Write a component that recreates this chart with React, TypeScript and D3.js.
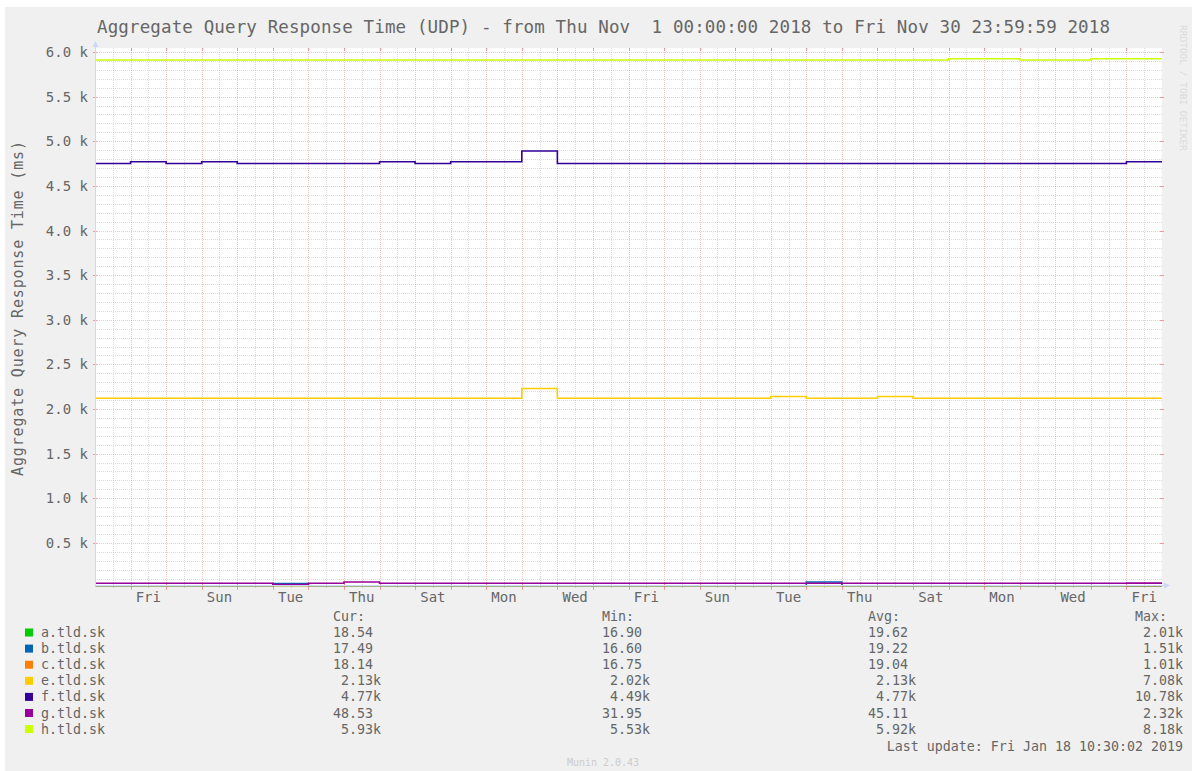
import React, { useEffect, useRef } from 'react';
import * as d3 from 'd3';

const W = 1192;
const H = 771;

const title = 'Aggregate Query Response Time (UDP) - from Thu Nov  1 00:00:00 2018 to Fri Nov 30 23:59:59 2018';
const yTitle = 'Aggregate Query Response Time (ms)';

const hosts = ['a.tld.sk', 'b.tld.sk', 'c.tld.sk', 'e.tld.sk', 'f.tld.sk', 'g.tld.sk', 'h.tld.sk'];
const colors = ['#00CC00', '#0066B3', '#FF8000', '#FFCC00', '#330099', '#990099', '#CCFF00'];

// one value per day, Nov 1 .. Nov 30 (ms)
const aDaily = [19.5, 19.6, 19.4, 19.7, 19.5, 19.8, 19.6, 19.5, 19.7, 19.6, 19.5, 19.6, 20.1, 19.6, 19.5,
  19.6, 19.7, 19.5, 19.6, 19.8, 19.6, 19.5, 19.7, 19.6, 19.5, 19.6, 19.7, 19.5, 19.6, 18.5];
const bDaily = [18.9, 19.0, 18.8, 19.1, 18.9, 45.0, 19.0, 18.9, 19.1, 19.0, 18.9, 19.0, 19.4, 19.0, 18.9,
  19.0, 19.1, 18.9, 19.0, 19.2, 62.0, 18.9, 19.1, 19.0, 18.9, 19.0, 19.1, 18.9, 19.0, 17.5];
const cDaily = [19.0, 19.1, 18.9, 19.1, 19.0, 19.2, 19.0, 18.9, 19.1, 19.0, 18.9, 19.0, 19.5, 19.0, 18.9,
  19.0, 19.1, 18.9, 19.0, 19.2, 19.0, 18.9, 19.1, 19.0, 18.9, 19.0, 19.1, 18.9, 19.0, 18.1];
const eDaily = [2120, 2120, 2120, 2120, 2120, 2120, 2120, 2120, 2120, 2120, 2120, 2120, 2230, 2120, 2120,
  2120, 2120, 2120, 2120, 2140, 2120, 2120, 2140, 2120, 2120, 2120, 2120, 2120, 2120, 2120];
const fDaily = [4750, 4770, 4750, 4770, 4750, 4750, 4750, 4750, 4770, 4750, 4770, 4770, 4890, 4750, 4750,
  4750, 4750, 4750, 4750, 4750, 4750, 4750, 4750, 4750, 4750, 4750, 4750, 4750, 4750, 4770];
const gDaily = [48, 48, 48, 48, 48, 34, 48, 62, 48, 48, 48, 48, 48, 48, 48,
  48, 48, 48, 48, 48, 48, 48, 48, 48, 48, 48, 48, 48, 48, 48.5];
const hDaily = [5910, 5910, 5910, 5910, 5910, 5910, 5910, 5910, 5910, 5910, 5910, 5910, 5910, 5910, 5910,
  5910, 5910, 5910, 5910, 5910, 5910, 5910, 5910, 5910, 5925, 5925, 5910, 5910, 5925, 5925];
const series = [aDaily, bDaily, cDaily, eDaily, fDaily, gDaily, hDaily];

const curVals = ['18.54', '17.49', '18.14', ' 2.13k', ' 4.77k', '48.53', ' 5.93k'];
const minVals = ['16.90', '16.60', '16.75', ' 2.02k', ' 4.49k', '31.95', ' 5.53k'];
const avgVals = ['19.62', '19.22', '19.04', ' 2.13k', ' 4.77k', '45.11', ' 5.92k'];
const maxVals = [' 2.01k', ' 1.51k', ' 1.01k', ' 7.08k', '10.78k', ' 2.32k', ' 8.18k'];

const yTicks = [500, 1000, 1500, 2000, 2500, 3000, 3500, 4000, 4500, 5000, 5500, 6000];
const dayLabels = ['Fri', 'Sun', 'Tue', 'Thu', 'Sat', 'Mon', 'Wed', 'Fri', 'Sun', 'Tue', 'Thu', 'Sat', 'Mon', 'Wed', 'Fri'];

const lastUpdate = 'Last update: Fri Jan 18 10:30:02 2019';
const version = 'Munin 2.0.43';
const watermark = 'RRDTOOL / TOBI OETIKER';

const mono = "'DejaVu Sans Mono', monospace";
const fontCol = '#666666';

// keep runs of spaces (fixed-width legend columns)
const pre = (s: string) => s.replace(/ /g, '\u00A0');

export default function App() {
  const svgRef = useRef<SVGSVGElement>(null);

  useEffect(() => {
    const svg = d3.select(svgRef.current);
    svg.selectAll('*').remove();

    const t0 = new Date(Date.UTC(2018, 10, 1));
    const t1 = new Date(Date.UTC(2018, 11, 1));
    const plotTop = 48;
    const plotBottom = 585.5;

    const x = d3.scaleUtc().domain([t0, t1]).range([95, 1162]);
    const y = d3.scaleLinear().domain([0, 6000]).range([587.5, 52]);
    const [xl, xr] = x.range();

    // page + image background
    svg.append('rect').attr('width', W).attr('height', H).attr('fill', '#ffffff');
    svg.append('rect').attr('x', 5).attr('y', 7).attr('width', W - 5).attr('height', H - 7).attr('fill', '#F0F0F0');
    svg.append('rect').attr('x', xl).attr('y', plotTop).attr('width', xr - xl).attr('height', plotBottom - plotTop).attr('fill', '#ffffff');

    const grid = svg.append('g').attr('shape-rendering', 'crispEdges');
    const minorCol = 'rgba(143,143,143,0.32)';
    const majorCol = 'rgba(232,80,80,0.33)';
    const tickCol = 'rgba(232,80,80,0.5)';

    // horizontal grid
    const minorY = d3.range(100, 6001, 100).filter(v => v % 500 !== 0);
    grid.selectAll('line.hmin').data(minorY).join('line')
      .attr('x1', xl).attr('x2', xr)
      .attr('y1', d => Math.round(y(d)) + 0.5).attr('y2', d => Math.round(y(d)) + 0.5)
      .attr('stroke', minorCol).attr('stroke-dasharray', '1 1');
    grid.selectAll('line.hmaj').data(yTicks).join('line')
      .attr('x1', xl).attr('x2', xr)
      .attr('y1', d => Math.round(y(d)) + 0.5).attr('y2', d => Math.round(y(d)) + 0.5)
      .attr('stroke', majorCol).attr('stroke-dasharray', '1 1');
    grid.selectAll('line.hmajtick').data(yTicks).join('line')
      .attr('x1', xl - 2).attr('x2', xl + 2)
      .attr('y1', d => Math.round(y(d)) + 0.5).attr('y2', d => Math.round(y(d)) + 0.5)
      .attr('stroke', tickCol);
    grid.selectAll('line.hmajtickr').data(yTicks).join('line')
      .attr('x1', xr - 2).attr('x2', xr + 2)
      .attr('y1', d => Math.round(y(d)) + 0.5).attr('y2', d => Math.round(y(d)) + 0.5)
      .attr('stroke', tickCol);

    // vertical grid: 12h minor, daily major
    const minorX = d3.utcHour.every(12)!.range(t0, t1).filter(d => d.getUTCHours() === 12);
    const majorX = d3.utcDay.range(d3.utcDay.offset(t0, 1), t1);
    grid.selectAll('line.vmin').data(minorX).join('line')
      .attr('x1', d => Math.round(x(d)) + 0.5).attr('x2', d => Math.round(x(d)) + 0.5)
      .attr('y1', plotTop).attr('y2', plotBottom)
      .attr('stroke', minorCol).attr('stroke-dasharray', '1 1');
    grid.selectAll('line.vmintick').data(minorX).join('line')
      .attr('x1', d => Math.round(x(d)) + 0.5).attr('x2', d => Math.round(x(d)) + 0.5)
      .attr('y1', plotBottom).attr('y2', plotBottom + 2)
      .attr('stroke', minorCol);
    grid.selectAll('line.vmaj').data(majorX).join('line')
      .attr('x1', d => Math.round(x(d)) + 0.5).attr('x2', d => Math.round(x(d)) + 0.5)
      .attr('y1', plotTop).attr('y2', plotBottom)
      .attr('stroke', majorCol).attr('stroke-dasharray', '1 1');
    grid.selectAll('line.vmajtick').data(majorX).join('line')
      .attr('x1', d => Math.round(x(d)) + 0.5).attr('x2', d => Math.round(x(d)) + 0.5)
      .attr('y1', plotBottom - 2).attr('y2', plotBottom + 4)
      .attr('stroke', tickCol);
    grid.selectAll('line.vmajtop').data(majorX).join('line')
      .attr('x1', d => Math.round(x(d)) + 0.5).attr('x2', d => Math.round(x(d)) + 0.5)
      .attr('y1', plotTop).attr('y2', plotTop + 3)
      .attr('stroke', tickCol);

    // data lines
    svg.append('clipPath').attr('id', 'plotclip')
      .append('rect').attr('x', xl).attr('y', plotTop).attr('width', xr - xl).attr('height', plotBottom - plotTop + 1);
    const line = d3.line<[Date, number]>()
      .x(d => x(d[0])).y(d => y(d[1]))
      .curve(d3.curveStepAfter);
    const lines = svg.append('g').attr('clip-path', 'url(#plotclip)');
    series.forEach((vals, i) => {
      const pts: [Date, number][] = vals.map((v, k) => [d3.utcDay.offset(t0, k), v]);
      pts.push([t1, vals[vals.length - 1]]);
      lines.append('path')
        .attr('d', line(pts))
        .attr('fill', 'none')
        .attr('stroke', colors[i])
        .attr('stroke-width', 1.6);
    });

    // axes
    const axisCol = '#CFD6F8';
    svg.append('line').attr('x1', xl + 0.5).attr('x2', xl + 0.5).attr('y1', plotTop - 2).attr('y2', plotBottom + 1)
      .attr('stroke', axisCol);
    svg.append('line').attr('x1', xl).attr('x2', xr + 3).attr('y1', plotBottom).attr('y2', plotBottom)
      .attr('stroke', axisCol);
    svg.append('path').attr('d', `M${xl - 2.5},${plotTop - 1} L${xl + 3.5},${plotTop - 1} L${xl + 0.5},${plotTop - 7} Z`)
      .attr('fill', axisCol);
    svg.append('path').attr('d', `M${xr + 2},${plotBottom - 3} L${xr + 2},${plotBottom + 3} L${xr + 8},${plotBottom} Z`)
      .attr('fill', axisCol);

    // y tick labels
    svg.append('g').selectAll('text').data(yTicks).join('text')
      .attr('x', 88).attr('y', d => y(d)).attr('dy', '0.36em')
      .attr('text-anchor', 'end')
      .attr('font-family', mono).attr('font-size', 14).attr('fill', fontCol)
      .text(d => pre(`${(d / 1000).toFixed(1)} k`));

    // x tick labels, at noon of every second day
    svg.append('g').selectAll('text').data(dayLabels).join('text')
      .attr('x', (d, i) => x(new Date(Date.UTC(2018, 10, 2 + 2 * i, 12))))
      .attr('y', 602)
      .attr('text-anchor', 'middle')
      .attr('font-family', mono).attr('font-size', 14).attr('fill', fontCol)
      .text(d => d);

    // titles
    svg.append('text')
      .attr('x', 97).attr('y', 33)
      .attr('font-family', mono).attr('font-size', 17.5).attr('fill', fontCol)
      .attr('textLength', 1013).attr('lengthAdjust', 'spacing')
      .text(pre(title));
    svg.append('text')
      .attr('transform', 'translate(23,308.5) rotate(-90)')
      .attr('text-anchor', 'middle')
      .attr('font-family', mono).attr('font-size', 15).attr('fill', fontCol)
      .attr('textLength', 335).attr('lengthAdjust', 'spacing')
      .text(yTitle);
    svg.append('text')
      .attr('transform', 'translate(1180,25) rotate(90)')
      .attr('font-family', mono).attr('font-size', 9.5).attr('fill', '#dadada')
      .text(watermark);

    // legend
    const leg = svg.append('g').attr('font-family', mono).attr('font-size', 13.3).attr('fill', fontCol);
    const cols = [333, 602, 868, 1135];
    const heads = ['Cur:', 'Min:', 'Avg:', 'Max:'];
    heads.forEach((h, j) => leg.append('text').attr('x', cols[j]).attr('y', 621).text(h));
    const rowY = (i: number) => 637 + i * 16.1;
    hosts.forEach((name, i) => {
      leg.append('rect').attr('x', 25).attr('y', rowY(i) - 8.5).attr('width', 8).attr('height', 8).attr('fill', colors[i]);
      leg.append('text').attr('x', 41).attr('y', rowY(i)).text(name);
      [curVals, minVals, avgVals, maxVals].forEach((vals, j) => {
        leg.append('text').attr('x', cols[j]).attr('y', rowY(i)).text(pre(vals[i]));
      });
    });
    leg.append('text').attr('x', 1183).attr('y', 751).attr('text-anchor', 'end').text(lastUpdate);

    svg.append('text')
      .attr('x', 603).attr('y', 766).attr('text-anchor', 'middle')
      .attr('font-family', mono).attr('font-size', 10).attr('fill', '#cccccc')
      .text(version);
  }, []);

  return (
    <svg
      ref={svgRef}
      width={W}
      height={H}
      style={{ position: 'absolute', left: 0, top: 0, display: 'block' }}
    />
  );
}
